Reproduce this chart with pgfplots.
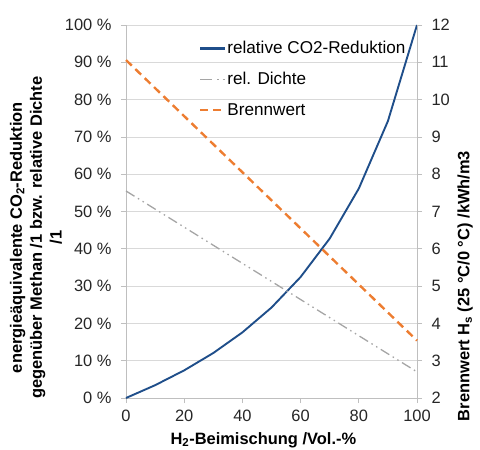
\documentclass[border=0pt]{standalone}
\usepackage{pgfplots}
\pgfplotsset{compat=1.18}
\usetikzlibrary{calc}
\usepackage{fontspec}
\setmainfont{Liberation Sans}
\definecolor{cblue}{HTML}{1F4E8A}
\definecolor{cgray}{HTML}{A5A5A5}
\definecolor{corange}{HTML}{ED7D31}
\definecolor{cgrid}{HTML}{D9D9D9}
\definecolor{caxis}{HTML}{BFBFBF}
\newcommand{\bigfont}{\fontsize{16.5}{20}\selectfont}
\newcommand{\legfont}{\fontsize{17.2}{20}\selectfont}
\begin{document}
\begin{tikzpicture}
\path[use as bounding box] (-126bp,-52bp) rectangle (354bp,398bp);
\pgfplotsset{
  every axis/.append style={
    scale only axis, width=291bp, height=373bp,
    xmin=0, xmax=100,
    font=\bigfont,
    /pgf/number format/assume math mode=true,
    tick label style={font=\bigfont, color=black!85},
    axis line style={draw=caxis, line width=0.7pt},
    tick style={draw=caxis, line width=0.7pt},
    tick align=outside, major tick length=5bp,
  }
}
\begin{axis}[
  at={(0,0)}, anchor=south west,
  ymin=0, ymax=100,
  axis y line*=left, axis x line*=bottom,
  xtick={0,20,...,100},
  ytick={0,10,...,100},
  yticklabels={0 \%,10 \%,20 \%,30 \%,40 \%,50 \%,60 \%,70 \%,80 \%,90 \%,100 \%},
  ymajorgrids, grid style={draw=cgrid, line width=0.7pt},
  yticklabel style={xshift=-6bp},
  xticklabel style={yshift=-4bp},
  clip=false,
]
\addplot[cblue, line width=1.9pt, mark=none] coordinates {
  (0,0) (10,3.43) (20,7.41) (30,12.06) (40,17.59) (50,24.25)
  (60,32.44) (70,42.75) (80,56.15) (90,74.23) (100,100)};
\addplot[cgray, line width=1.3pt, mark=none,
  dash pattern=on 10bp off 4bp on 1.5bp off 4bp on 1.5bp off 4bp] coordinates {
  (0,55.5) (100,7.0)};
\node[rotate=90, align=center, font=\bfseries\bigfont, anchor=center]
  at ($(rel axis cs:0,0.43)+(-90bp,0)$)
  {energieäquivalente CO\textsubscript{2}-Reduktion\\gegenüber Methan /1 bzw. relative Dichte\\/1};
\node[font=\bfseries\bigfont, anchor=base]
  at ($(rel axis cs:0.472,0)+(0,-46bp)$)
  {H\textsubscript{2}-Beimischung /Vol.-\%};
\end{axis}
\begin{axis}[
  at={(0,0)}, anchor=south west,
  ymin=2, ymax=12,
  axis y line*=right, axis x line=none,
  ytick={2,3,...,12},
  yticklabel style={xshift=6bp},
  clip=false,
  legend style={at={(rel axis cs:0.24,0.967)}, anchor=north west, draw=none, fill=none,
    font=\legfont, row sep=13bp,
    nodes={inner xsep=1bp}},
  legend cell align=left,
  legend image code/.code={\draw[#1] (0bp,0bp) -- (25bp,0bp);},
]
\addlegendimage{cblue, line width=2.2pt}
\addlegendentry{relative CO2-Reduktion}
\addlegendimage{cgray, line width=1.3pt, dash pattern=on 12bp off 5bp on 1.5bp off 4bp}
\addlegendentry{rel. Dichte}
\addplot[corange, line width=2.4pt, mark=none, dash pattern=on 8bp off 5bp] coordinates {
  (0,11.06) (100,3.54)};
\addlegendentry{Brennwert}
\node[rotate=90, font=\bfseries\bigfont, anchor=center]
  at ($(rel axis cs:1,0.5)+(48bp,0)$)
  {Brennwert H\textsubscript{s} (25 °C/0 °C) /kWh/m3};
\end{axis}
\end{tikzpicture}
\end{document}
